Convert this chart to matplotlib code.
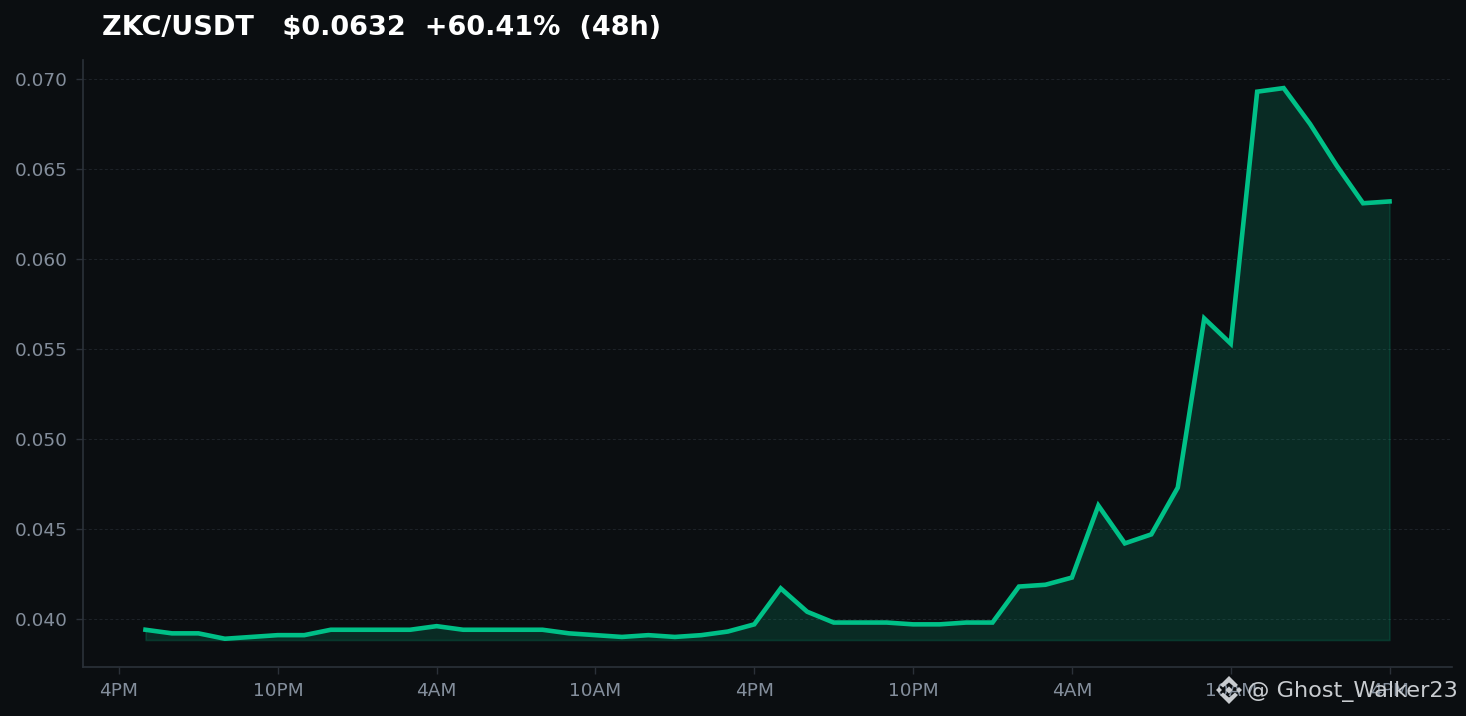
import matplotlib
matplotlib.use("Agg")
import matplotlib.pyplot as plt
from matplotlib.patches import Polygon

hours = list(range(1, 49))
prices = [0.0394, 0.0392, 0.0392, 0.0389, 0.0390, 0.0391, 0.0391, 0.0394,
          0.0394, 0.0394, 0.0394, 0.0396, 0.0394, 0.0394, 0.0394, 0.0394,
          0.0392, 0.0391, 0.0390, 0.0391, 0.0390, 0.0391, 0.0393, 0.0397,
          0.0417, 0.0404, 0.0398, 0.0398, 0.0398, 0.0397, 0.0397, 0.0398,
          0.0398, 0.0418, 0.0419, 0.0423, 0.0463, 0.0442, 0.0447, 0.0473,
          0.0567, 0.0553, 0.0693, 0.0695, 0.0675, 0.0652, 0.0631, 0.0632]
x_ticks = [0, 6, 12, 18, 24, 30, 36, 42, 48]
x_labels = ["4PM", "10PM", "4AM", "10AM", "4PM", "10PM", "4AM", "10AM", "4PM"]
y_ticks = [0.040, 0.045, 0.050, 0.055, 0.060, 0.065, 0.070]
fill_base = 0.03883
title = "ZKC/USDT   $0.0632  +60.41%  (48h)"
watermark = "@ Ghost_Walker23"

W, H, DPI = 1466, 716, 100
BG = "#0b0e11"
fig = plt.figure(figsize=(W / DPI, H / DPI), dpi=DPI, facecolor=BG)
ax = fig.add_axes([83 / W, 1 - 667 / H, (1452 - 83) / W, (667 - 60) / H], facecolor=BG)

ax.fill_between(hours, prices, fill_base, color="#00c087", alpha=0.17, lw=1.2)
ax.plot(hours, prices, color="#00c087", lw=3.3, solid_joinstyle="miter", zorder=3)

ax.set_xlim(-1.36, 50.36)
ax.set_ylim(0.03733, 0.07106)
ax.set_xticks(x_ticks, x_labels)
ax.set_yticks(y_ticks, [f"{v:.3f}" for v in y_ticks])
ax.tick_params(colors="#2b3139", labelcolor="#848e9c", labelsize=13.3, length=5, width=1, pad=6)
ax.grid(axis="y", color="#1e2329", lw=0.7, ls=(0, (3, 2.5)))
ax.set_axisbelow(True)
for s in ("top", "right"):
    ax.spines[s].set_visible(False)
for s in ("left", "bottom"):
    ax.spines[s].set_color("#2b3139")
    ax.spines[s].set_linewidth(1.2)

fig.text(102 / W, 1 - 28 / H, title, color="white", fontsize=19.5, fontweight="bold", va="center", ha="left")

# watermark: logo built from small diamonds in pixel coordinates
wm_color = "#c9ccd0"
cx, cy = 1229, 690
def diamond(dx, dy, r):
    px = cx + dx
    py = H - (cy + dy)
    return Polygon([(px - r, py), (px, py + r), (px + r, py), (px, py - r)],
                   closed=True, transform=None, facecolor=wm_color, edgecolor="none", zorder=10)
for d in [(0, 0, 3.6), (-10, 0, 3.0), (10, 0, 3.0)]:
    fig.add_artist(diamond(*d))
for sy in (-1, 1):
    fig.add_artist(Polygon([(cx, H - (cy + sy * 14)), (cx + 9, H - (cy + sy * 5)),
                            (cx + 6, H - (cy + sy * 2.5)), (cx, H - (cy + sy * 7.5)),
                            (cx - 6, H - (cy + sy * 2.5)), (cx - 9, H - (cy + sy * 5))],
                           closed=True, transform=None, facecolor=wm_color, edgecolor="none", zorder=10))
fig.text(1247 / W, 1 - 691 / H, watermark, color=wm_color, fontsize=16.1, va="center", ha="left", zorder=10)

fig.savefig("out.png", dpi=DPI, facecolor=BG)
